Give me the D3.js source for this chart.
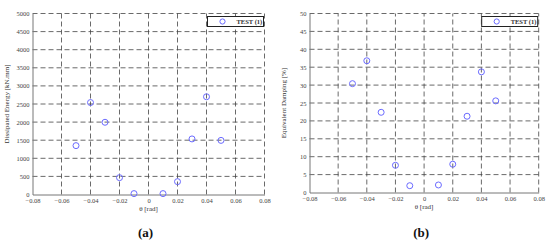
<!DOCTYPE html>
<html><head><meta charset="utf-8">
<script src="https://cdn.jsdelivr.net/npm/d3@7"></script>
<style>body{margin:0;background:#fff}svg{display:block}</style>
</head><body>
<svg id="c" width="550" height="243"></svg>
<script>
const thetaA = [-0.05,-0.04,-0.03,-0.02,-0.01,0.01,0.02,0.03,0.04,0.05];
const energy = [1350,2540,1995,465,25,25,355,1535,2700,1495];
const thetaB = [-0.05,-0.04,-0.03,-0.02,-0.01,0.01,0.02,0.03,0.04,0.05];
const damping = [30.4,36.8,22.4,7.6,1.9,2.1,7.9,21.3,33.7,25.6];
const xTicks = [-0.08,-0.06,-0.04,-0.02,0,0.02,0.04,0.06,0.08];
const yTicksA = [0,500,1000,1500,2000,2500,3000,3500,4000,4500,5000];
const yTicksB = [0,5,10,15,20,25,30,35,40,45,50];
const legendLabel = "TEST (1)";

const svg = d3.select("#c");
function panel(o){
  const x = d3.scaleLinear().domain([-0.08,0.08]).range([o.x0,o.x1]);
  const y = d3.scaleLinear().domain([0,o.ymax]).range([o.y0,o.y1]);
  const g = svg.append("g");
  g.selectAll(".gv").data(xTicks.slice(1)).enter().append("line")
    .attr("x1",d=>x(d)).attr("x2",d=>x(d)).attr("y1",o.y0).attr("y2",o.y1)
    .attr("stroke","#444").attr("stroke-width",0.8).attr("stroke-dasharray","5,3");
  g.selectAll(".gh").data(o.yt.slice(1)).enter().append("line")
    .attr("x1",o.x0).attr("x2",o.x1).attr("y1",d=>y(d)).attr("y2",d=>y(d))
    .attr("stroke","#444").attr("stroke-width",0.8).attr("stroke-dasharray","5,3");
  const xa = g.append("g").attr("transform",`translate(0,${o.y0})`)
    .call(d3.axisBottom(x).tickValues(xTicks).tickSize(0).tickPadding(4).tickFormat(d=>d===0?"0":d3.format(".2f")(d)));
  const ya = g.append("g").attr("transform",`translate(${o.x0},0)`)
    .call(d3.axisLeft(y).tickValues(o.yt).tickSize(0).tickPadding(3).tickFormat(d3.format("d")));
  [xa,ya].forEach(a=>{
    a.select(".domain").attr("stroke","#777").attr("stroke-width",1);
    a.selectAll("text").attr("font-family","Liberation Serif").attr("font-size",6.5).attr("fill","#444");
  });
  g.selectAll(".pt").data(o.xs).enter().append("circle")
    .attr("cx",d=>x(d)).attr("cy",(d,i)=>y(o.ys[i])).attr("r",3)
    .attr("fill","none").attr("stroke","#6b6bff").attr("stroke-width",1);
  g.append("text").attr("x",(o.x0+o.x1)/2).attr("y",o.y0+16).attr("text-anchor","middle")
    .attr("font-family","Liberation Serif").attr("font-size",7).attr("fill","#333").text("θ [rad]");
  g.append("text").attr("transform",`translate(${o.x0-24},${(o.y0+o.y1)/2}) rotate(-90)`)
    .attr("text-anchor","middle").attr("font-family","Liberation Serif").attr("font-size",7).attr("fill","#333").text(o.ylabel);
  const lx = o.x1-57, ly = o.y1+3;
  g.append("rect").attr("x",lx).attr("y",ly).attr("width",56).attr("height",10)
    .attr("fill","#fff").attr("stroke","#222").attr("stroke-width",1);
  g.append("circle").attr("cx",lx+15).attr("cy",ly+5).attr("r",2.6)
    .attr("fill","none").attr("stroke","#6b6bff").attr("stroke-width",1);
  g.append("text").attr("x",lx+29).attr("y",ly+7.5).attr("font-family","Liberation Serif")
    .attr("font-size",6.5).attr("font-weight","bold").attr("fill","#333").text(legendLabel);
  g.append("text").attr("x",(o.x0+o.x1)/2 - 3).attr("y",237).attr("text-anchor","middle")
    .attr("font-family","Liberation Serif").attr("font-weight","bold").attr("font-size",13).attr("fill","#111").text(o.cap);
}
panel({x0:32.5,x1:264.5,y0:194.5,y1:13.5,ymax:5000,yt:yTicksA,xs:thetaA,ys:energy,ylabel:"Dissipated Energy [kN.mm]",cap:"(a)"});
panel({x0:309.5,x1:538.7,y0:192.5,y1:13.5,ymax:50,yt:yTicksB,xs:thetaB,ys:damping,ylabel:"Equivalent Damping [%]",cap:"(b)"});
</script>
</body></html>
